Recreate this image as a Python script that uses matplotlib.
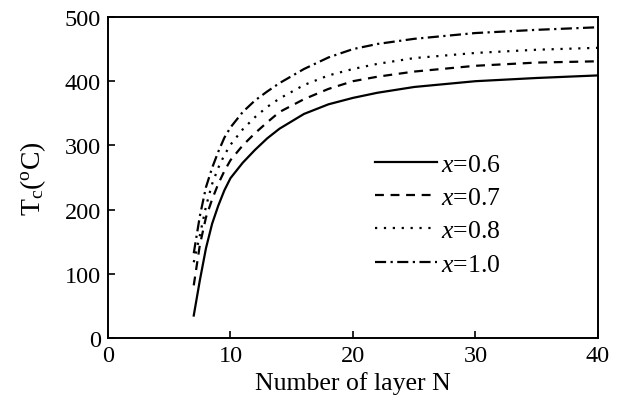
import matplotlib
matplotlib.use("Agg")
import matplotlib.pyplot as plt

plt.rcParams['font.family'] = 'Liberation Serif'
plt.rcParams['mathtext.fontset'] = 'custom'
plt.rcParams['mathtext.rm'] = 'Liberation Serif'
plt.rcParams['mathtext.it'] = 'Liberation Serif:italic'

# number of layers and Curie temperature for each composition
layers = [7, 7.5, 8, 8.5, 9, 9.5, 10, 11, 12, 13, 14, 16, 18, 20, 22, 25, 30, 35, 40]
tc_06 = [35, 90, 140, 178, 206, 230, 249, 273, 293, 311, 326, 349, 364, 374, 382, 391, 400, 405, 409]
tc_07 = [82, 145, 188, 216, 240, 260, 277, 300, 319, 336, 352, 372, 388, 400, 407, 415, 424, 429, 431]
tc_08 = [118, 160, 205, 240, 265, 285, 301, 325, 344, 360, 373, 394, 409, 419, 427, 436, 444, 449, 452]
tc_10 = [132, 190, 235, 265, 290, 312, 328, 352, 370, 384, 397, 419, 437, 450, 458, 466, 475, 480, 484]

labels = ["$x$=0.6", "$x$=0.7", "$x$=0.8", "$x$=1.0"]
xticks = [0, 10, 20, 30, 40]
yticks = [0, 100, 200, 300, 400, 500]

fig = plt.figure(figsize=(6.33, 4.06), dpi=100)
ax = fig.add_axes([0.1706, 0.165, 0.7741, 0.7907])

ax.plot(layers, tc_06, color='black', lw=1.6, linestyle='-', label=labels[0])
ax.plot(layers, tc_07, color='black', lw=1.6, linestyle=(0, (4, 3)), label=labels[1])
ax.plot(layers, tc_08, color='black', lw=1.6, linestyle=(0, (1, 3)), label=labels[2])
ax.plot(layers, tc_10, color='black', lw=1.6, linestyle=(0, (5, 2, 1, 2)), label=labels[3])

ax.set_xlim(0, 40)
ax.set_ylim(0, 500)
ax.set_xticks(xticks)
ax.set_yticks(yticks)
ax.tick_params(direction='in', length=5, width=1.2, labelsize=17.5, pad=5)
for sp in ax.spines.values():
    sp.set_linewidth(1.4)

ax.set_xlabel("Number of layer N", fontsize=18.5, labelpad=4)
ax.set_ylabel("T$_\\mathrm{c}$($^\\mathrm{o}$C)", fontsize=20, labelpad=12)

ax.legend(loc='upper left', bbox_to_anchor=(0.498, 0.649), frameon=False,
          fontsize=18.5, handlelength=2.4, handletextpad=0.15, labelspacing=0.4)

fig.savefig("out.png", dpi=100)
